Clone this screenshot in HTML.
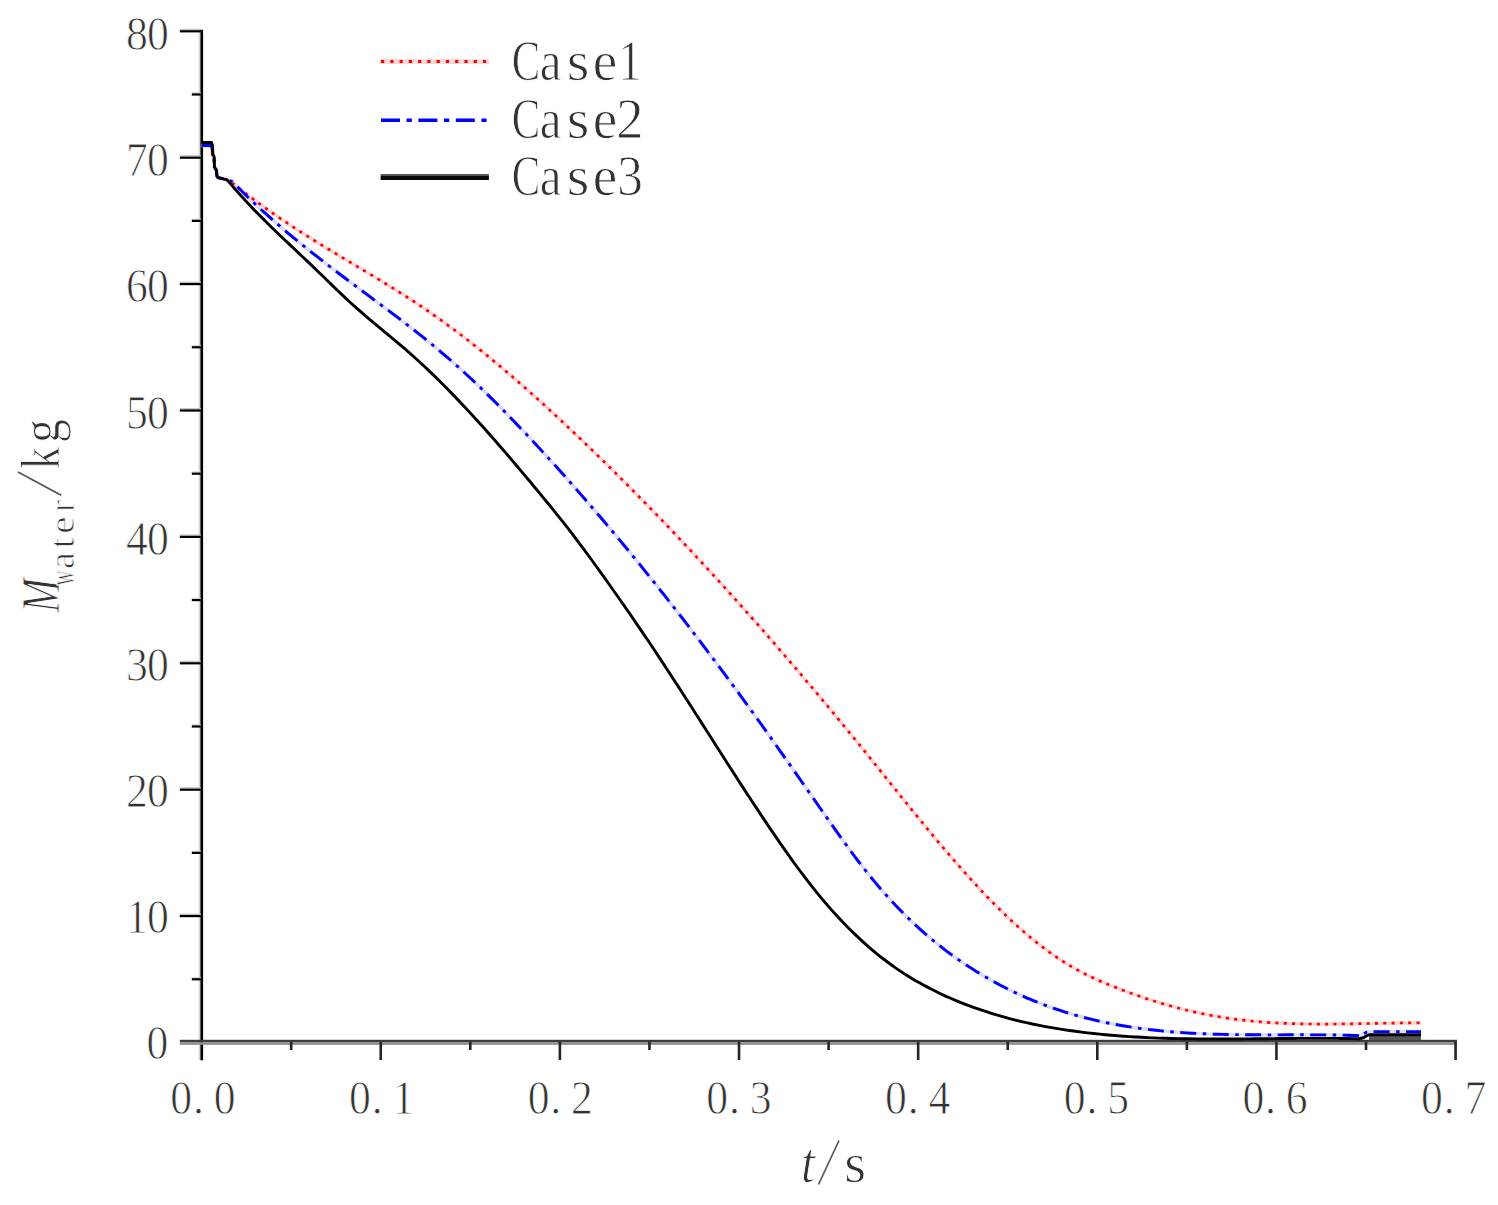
<!DOCTYPE html>
<html><head><meta charset="utf-8"><title>chart</title><style>
html,body{margin:0;padding:0;background:#fff;overflow:hidden;}
svg{display:block;}
</style></head><body>
<svg width="1498" height="1205" viewBox="0 0 1498 1205">
<rect width="1498" height="1205" fill="#fff"/>
<rect x="198.6" y="30" width="1.8" height="1030" fill="#d8d8d8"/>
<rect x="200.4" y="29.8" width="2.7" height="1030.5" fill="#000"/>
<rect x="179.8" y="1039.8" width="1277.2" height="2.4" fill="#3c3c3c"/>
<rect x="179.8" y="1042.2" width="1277.2" height="2.6" fill="#8c8c8c"/>
<rect x="191.8" y="977.00" width="9" height="1.3" fill="#d0d0d0"/>
<rect x="191.8" y="978.20" width="9" height="2.2" fill="#000"/>
<rect x="179.8" y="913.60" width="21" height="1.5" fill="#c4c4c4"/>
<rect x="179.8" y="915.00" width="21" height="2.2" fill="#000"/>
<rect x="191.8" y="850.60" width="9" height="1.3" fill="#d0d0d0"/>
<rect x="191.8" y="851.80" width="9" height="2.2" fill="#000"/>
<rect x="179.8" y="787.20" width="21" height="1.5" fill="#c4c4c4"/>
<rect x="179.8" y="788.60" width="21" height="2.2" fill="#000"/>
<rect x="191.8" y="724.20" width="9" height="1.3" fill="#d0d0d0"/>
<rect x="191.8" y="725.40" width="9" height="2.2" fill="#000"/>
<rect x="179.8" y="660.80" width="21" height="1.5" fill="#c4c4c4"/>
<rect x="179.8" y="662.20" width="21" height="2.2" fill="#000"/>
<rect x="191.8" y="597.80" width="9" height="1.3" fill="#d0d0d0"/>
<rect x="191.8" y="599.00" width="9" height="2.2" fill="#000"/>
<rect x="179.8" y="534.40" width="21" height="1.5" fill="#c4c4c4"/>
<rect x="179.8" y="535.80" width="21" height="2.2" fill="#000"/>
<rect x="191.8" y="471.40" width="9" height="1.3" fill="#d0d0d0"/>
<rect x="191.8" y="472.60" width="9" height="2.2" fill="#000"/>
<rect x="179.8" y="408.00" width="21" height="1.5" fill="#c4c4c4"/>
<rect x="179.8" y="409.40" width="21" height="2.2" fill="#000"/>
<rect x="191.8" y="345.00" width="9" height="1.3" fill="#d0d0d0"/>
<rect x="191.8" y="346.20" width="9" height="2.2" fill="#000"/>
<rect x="179.8" y="281.60" width="21" height="1.5" fill="#c4c4c4"/>
<rect x="179.8" y="283.00" width="21" height="2.2" fill="#000"/>
<rect x="191.8" y="218.60" width="9" height="1.3" fill="#d0d0d0"/>
<rect x="191.8" y="219.80" width="9" height="2.2" fill="#000"/>
<rect x="179.8" y="155.20" width="21" height="1.5" fill="#c4c4c4"/>
<rect x="179.8" y="156.60" width="21" height="2.2" fill="#000"/>
<rect x="191.8" y="92.20" width="9" height="1.3" fill="#d0d0d0"/>
<rect x="191.8" y="93.40" width="9" height="2.2" fill="#000"/>
<rect x="179.8" y="28.80" width="21" height="1.5" fill="#c4c4c4"/>
<rect x="179.8" y="30.20" width="21" height="2.2" fill="#000"/>
<rect x="289.87" y="1042" width="2.6" height="8" fill="#262626"/>
<rect x="379.44" y="1042" width="2.6" height="18" fill="#262626"/>
<rect x="469.01" y="1042" width="2.6" height="8" fill="#262626"/>
<rect x="558.58" y="1042" width="2.6" height="18" fill="#262626"/>
<rect x="648.15" y="1042" width="2.6" height="8" fill="#262626"/>
<rect x="737.72" y="1042" width="2.6" height="18" fill="#262626"/>
<rect x="827.29" y="1042" width="2.6" height="8" fill="#262626"/>
<rect x="916.86" y="1042" width="2.6" height="18" fill="#262626"/>
<rect x="1006.43" y="1042" width="2.6" height="8" fill="#262626"/>
<rect x="1096.00" y="1042" width="2.6" height="18" fill="#262626"/>
<rect x="1185.57" y="1042" width="2.6" height="8" fill="#262626"/>
<rect x="1275.14" y="1042" width="2.6" height="18" fill="#262626"/>
<rect x="1364.71" y="1042" width="2.6" height="8" fill="#262626"/>
<rect x="1454.28" y="1042" width="2.6" height="18" fill="#262626"/>
<text transform="translate(157.30,1059.20) scale(0.900,1)" font-family="Liberation Serif" font-size="48.5" fill="#333" stroke="#fff" stroke-width="0.90" text-anchor="middle">0</text>
<text transform="translate(137.00,933.08) scale(0.900,1)" font-family="Liberation Serif" font-size="48.5" fill="#333" stroke="#fff" stroke-width="0.90" text-anchor="middle">1</text><text transform="translate(158.00,933.08) scale(0.900,1)" font-family="Liberation Serif" font-size="48.5" fill="#333" stroke="#fff" stroke-width="0.90" text-anchor="middle">0</text>
<text transform="translate(137.00,806.96) scale(0.900,1)" font-family="Liberation Serif" font-size="48.5" fill="#333" stroke="#fff" stroke-width="0.90" text-anchor="middle">2</text><text transform="translate(158.00,806.96) scale(0.900,1)" font-family="Liberation Serif" font-size="48.5" fill="#333" stroke="#fff" stroke-width="0.90" text-anchor="middle">0</text>
<text transform="translate(137.00,680.84) scale(0.900,1)" font-family="Liberation Serif" font-size="48.5" fill="#333" stroke="#fff" stroke-width="0.90" text-anchor="middle">3</text><text transform="translate(158.00,680.84) scale(0.900,1)" font-family="Liberation Serif" font-size="48.5" fill="#333" stroke="#fff" stroke-width="0.90" text-anchor="middle">0</text>
<text transform="translate(137.00,554.72) scale(0.900,1)" font-family="Liberation Serif" font-size="48.5" fill="#333" stroke="#fff" stroke-width="0.90" text-anchor="middle">4</text><text transform="translate(158.00,554.72) scale(0.900,1)" font-family="Liberation Serif" font-size="48.5" fill="#333" stroke="#fff" stroke-width="0.90" text-anchor="middle">0</text>
<text transform="translate(137.00,428.60) scale(0.900,1)" font-family="Liberation Serif" font-size="48.5" fill="#333" stroke="#fff" stroke-width="0.90" text-anchor="middle">5</text><text transform="translate(158.00,428.60) scale(0.900,1)" font-family="Liberation Serif" font-size="48.5" fill="#333" stroke="#fff" stroke-width="0.90" text-anchor="middle">0</text>
<text transform="translate(137.00,302.48) scale(0.900,1)" font-family="Liberation Serif" font-size="48.5" fill="#333" stroke="#fff" stroke-width="0.90" text-anchor="middle">6</text><text transform="translate(158.00,302.48) scale(0.900,1)" font-family="Liberation Serif" font-size="48.5" fill="#333" stroke="#fff" stroke-width="0.90" text-anchor="middle">0</text>
<text transform="translate(137.00,176.36) scale(0.900,1)" font-family="Liberation Serif" font-size="48.5" fill="#333" stroke="#fff" stroke-width="0.90" text-anchor="middle">7</text><text transform="translate(158.00,176.36) scale(0.900,1)" font-family="Liberation Serif" font-size="48.5" fill="#333" stroke="#fff" stroke-width="0.90" text-anchor="middle">0</text>
<text transform="translate(137.00,50.24) scale(0.900,1)" font-family="Liberation Serif" font-size="48.5" fill="#333" stroke="#fff" stroke-width="0.90" text-anchor="middle">8</text><text transform="translate(158.00,50.24) scale(0.900,1)" font-family="Liberation Serif" font-size="48.5" fill="#333" stroke="#fff" stroke-width="0.90" text-anchor="middle">0</text>
<text transform="translate(181.20,1114.30) scale(0.900,1)" font-family="Liberation Serif" font-size="48.5" fill="#333" stroke="#fff" stroke-width="0.90" text-anchor="middle">0</text><text transform="translate(198.40,1114.30) scale(0.900,1)" font-family="Liberation Serif" font-size="48.5" fill="#333" stroke="#fff" stroke-width="0.90" text-anchor="middle">.</text><text transform="translate(224.60,1114.30) scale(0.900,1)" font-family="Liberation Serif" font-size="48.5" fill="#333" stroke="#fff" stroke-width="0.90" text-anchor="middle">0</text>
<text transform="translate(359.89,1114.30) scale(0.900,1)" font-family="Liberation Serif" font-size="48.5" fill="#333" stroke="#fff" stroke-width="0.90" text-anchor="middle">0</text><text transform="translate(377.09,1114.30) scale(0.900,1)" font-family="Liberation Serif" font-size="48.5" fill="#333" stroke="#fff" stroke-width="0.90" text-anchor="middle">.</text><text transform="translate(403.29,1114.30) scale(0.900,1)" font-family="Liberation Serif" font-size="48.5" fill="#333" stroke="#fff" stroke-width="0.90" text-anchor="middle">1</text>
<text transform="translate(538.58,1114.30) scale(0.900,1)" font-family="Liberation Serif" font-size="48.5" fill="#333" stroke="#fff" stroke-width="0.90" text-anchor="middle">0</text><text transform="translate(555.78,1114.30) scale(0.900,1)" font-family="Liberation Serif" font-size="48.5" fill="#333" stroke="#fff" stroke-width="0.90" text-anchor="middle">.</text><text transform="translate(581.98,1114.30) scale(0.900,1)" font-family="Liberation Serif" font-size="48.5" fill="#333" stroke="#fff" stroke-width="0.90" text-anchor="middle">2</text>
<text transform="translate(717.27,1114.30) scale(0.900,1)" font-family="Liberation Serif" font-size="48.5" fill="#333" stroke="#fff" stroke-width="0.90" text-anchor="middle">0</text><text transform="translate(734.47,1114.30) scale(0.900,1)" font-family="Liberation Serif" font-size="48.5" fill="#333" stroke="#fff" stroke-width="0.90" text-anchor="middle">.</text><text transform="translate(760.67,1114.30) scale(0.900,1)" font-family="Liberation Serif" font-size="48.5" fill="#333" stroke="#fff" stroke-width="0.90" text-anchor="middle">3</text>
<text transform="translate(895.96,1114.30) scale(0.900,1)" font-family="Liberation Serif" font-size="48.5" fill="#333" stroke="#fff" stroke-width="0.90" text-anchor="middle">0</text><text transform="translate(913.16,1114.30) scale(0.900,1)" font-family="Liberation Serif" font-size="48.5" fill="#333" stroke="#fff" stroke-width="0.90" text-anchor="middle">.</text><text transform="translate(939.36,1114.30) scale(0.900,1)" font-family="Liberation Serif" font-size="48.5" fill="#333" stroke="#fff" stroke-width="0.90" text-anchor="middle">4</text>
<text transform="translate(1074.65,1114.30) scale(0.900,1)" font-family="Liberation Serif" font-size="48.5" fill="#333" stroke="#fff" stroke-width="0.90" text-anchor="middle">0</text><text transform="translate(1091.85,1114.30) scale(0.900,1)" font-family="Liberation Serif" font-size="48.5" fill="#333" stroke="#fff" stroke-width="0.90" text-anchor="middle">.</text><text transform="translate(1118.05,1114.30) scale(0.900,1)" font-family="Liberation Serif" font-size="48.5" fill="#333" stroke="#fff" stroke-width="0.90" text-anchor="middle">5</text>
<text transform="translate(1253.34,1114.30) scale(0.900,1)" font-family="Liberation Serif" font-size="48.5" fill="#333" stroke="#fff" stroke-width="0.90" text-anchor="middle">0</text><text transform="translate(1270.54,1114.30) scale(0.900,1)" font-family="Liberation Serif" font-size="48.5" fill="#333" stroke="#fff" stroke-width="0.90" text-anchor="middle">.</text><text transform="translate(1296.74,1114.30) scale(0.900,1)" font-family="Liberation Serif" font-size="48.5" fill="#333" stroke="#fff" stroke-width="0.90" text-anchor="middle">6</text>
<text transform="translate(1432.03,1114.30) scale(0.900,1)" font-family="Liberation Serif" font-size="48.5" fill="#333" stroke="#fff" stroke-width="0.90" text-anchor="middle">0</text><text transform="translate(1449.23,1114.30) scale(0.900,1)" font-family="Liberation Serif" font-size="48.5" fill="#333" stroke="#fff" stroke-width="0.90" text-anchor="middle">.</text><text transform="translate(1475.43,1114.30) scale(0.900,1)" font-family="Liberation Serif" font-size="48.5" fill="#333" stroke="#fff" stroke-width="0.90" text-anchor="middle">7</text>
<text transform="translate(526.00,80.30) scale(0.750,1)" font-family="Liberation Serif" font-size="57.0" fill="#333" stroke="#fff" stroke-width="0.90" text-anchor="middle">C</text><text transform="translate(550.70,80.30) scale(0.860,1)" font-family="Liberation Serif" font-size="57.0" fill="#333" stroke="#fff" stroke-width="0.90" text-anchor="middle">a</text><text transform="translate(578.00,80.30) scale(1.020,1)" font-family="Liberation Serif" font-size="57.0" fill="#333" stroke="#fff" stroke-width="0.90" text-anchor="middle">s</text><text transform="translate(605.00,80.30) scale(0.970,1)" font-family="Liberation Serif" font-size="57.0" fill="#333" stroke="#fff" stroke-width="0.90" text-anchor="middle">e</text><text transform="translate(630.00,80.30) scale(0.830,1)" font-family="Liberation Serif" font-size="57.0" fill="#333" stroke="#fff" stroke-width="0.90" text-anchor="middle">1</text>
<text transform="translate(526.00,137.80) scale(0.750,1)" font-family="Liberation Serif" font-size="57.0" fill="#333" stroke="#fff" stroke-width="0.90" text-anchor="middle">C</text><text transform="translate(550.70,137.80) scale(0.860,1)" font-family="Liberation Serif" font-size="57.0" fill="#333" stroke="#fff" stroke-width="0.90" text-anchor="middle">a</text><text transform="translate(578.00,137.80) scale(1.020,1)" font-family="Liberation Serif" font-size="57.0" fill="#333" stroke="#fff" stroke-width="0.90" text-anchor="middle">s</text><text transform="translate(605.00,137.80) scale(0.970,1)" font-family="Liberation Serif" font-size="57.0" fill="#333" stroke="#fff" stroke-width="0.90" text-anchor="middle">e</text><text transform="translate(630.00,137.80) scale(0.960,1)" font-family="Liberation Serif" font-size="57.0" fill="#333" stroke="#fff" stroke-width="0.90" text-anchor="middle">2</text>
<text transform="translate(526.00,194.60) scale(0.750,1)" font-family="Liberation Serif" font-size="57.0" fill="#333" stroke="#fff" stroke-width="0.90" text-anchor="middle">C</text><text transform="translate(550.70,194.60) scale(0.860,1)" font-family="Liberation Serif" font-size="57.0" fill="#333" stroke="#fff" stroke-width="0.90" text-anchor="middle">a</text><text transform="translate(578.00,194.60) scale(1.020,1)" font-family="Liberation Serif" font-size="57.0" fill="#333" stroke="#fff" stroke-width="0.90" text-anchor="middle">s</text><text transform="translate(605.00,194.60) scale(0.970,1)" font-family="Liberation Serif" font-size="57.0" fill="#333" stroke="#fff" stroke-width="0.90" text-anchor="middle">e</text><text transform="translate(630.00,194.60) scale(0.900,1)" font-family="Liberation Serif" font-size="57.0" fill="#333" stroke="#fff" stroke-width="0.90" text-anchor="middle">3</text>
<line x1="379.4" y1="61.6" x2="489" y2="61.6" stroke="#ffd8d8" stroke-width="5"/><line x1="381" y1="61.6" x2="489" y2="61.6" stroke="#ff0000" stroke-width="3" stroke-dasharray="3.2 6.07"/>
<line x1="381" y1="120.2" x2="489" y2="120.2" stroke="#0000ff" stroke-width="3.6" stroke-dasharray="19 6.6 5.2 6.6"/>
<rect x="380.6" y="174.1" width="108.3" height="1.8" fill="#4a4a4a"/><rect x="380.6" y="175.9" width="108.3" height="4.1" fill="#080808"/>
<path d="M201.60 145.50 L210.80 145.50 L212.20 148.00 L212.60 155.00 L214.00 158.00 L214.30 167.00 L216.30 170.00 L216.80 175.80 L218.00 177.50 L222.00 178.40 L226.50 179.40 L234.90 184.97 C235.90 185.76 238.90 188.15 240.90 189.72 C242.90 191.28 244.90 192.82 246.90 194.35 C248.90 195.88 250.90 197.39 252.90 198.88 C254.90 200.37 256.90 201.85 258.90 203.31 C260.90 204.77 262.90 206.22 264.90 207.65 C266.90 209.08 268.90 210.50 270.90 211.90 C272.90 213.31 274.90 214.69 276.90 216.07 C278.90 217.45 280.90 218.81 282.90 220.16 C284.90 221.51 286.90 222.85 288.90 224.18 C290.90 225.51 292.90 226.82 294.90 228.13 C296.90 229.44 298.90 230.73 300.90 232.02 C302.90 233.30 304.90 234.58 306.90 235.85 C308.90 237.11 310.90 238.37 312.90 239.62 C314.90 240.88 316.90 242.12 318.90 243.36 C320.90 244.59 322.90 245.82 324.90 247.05 C326.90 248.27 328.90 249.49 330.90 250.70 C332.90 251.92 334.90 253.12 336.90 254.33 C338.90 255.54 340.90 256.74 342.90 257.94 C344.90 259.14 346.90 260.34 348.90 261.54 C350.90 262.73 352.90 263.93 354.90 265.13 C356.90 266.32 358.90 267.52 360.90 268.72 C362.90 269.91 364.90 271.11 366.90 272.32 C368.90 273.52 370.90 274.72 372.90 275.93 C374.90 277.14 376.90 278.35 378.90 279.57 C380.90 280.78 382.90 282.00 384.90 283.23 C386.90 284.46 388.90 285.69 390.90 286.93 C392.90 288.17 394.90 289.42 396.90 290.68 C398.90 291.93 400.90 293.19 402.90 294.47 C404.90 295.74 406.90 297.02 408.90 298.32 C410.90 299.61 412.90 300.92 414.90 302.23 C416.90 303.55 418.90 304.88 420.90 306.22 C422.90 307.56 424.90 308.91 426.90 310.28 C428.90 311.65 430.90 313.03 432.90 314.43 C434.90 315.82 436.90 317.24 438.90 318.66 C440.90 320.09 442.90 321.53 444.90 322.98 C446.90 324.43 448.90 325.90 450.90 327.38 C452.90 328.86 454.90 330.36 456.90 331.86 C458.90 333.37 460.90 334.89 462.90 336.43 C464.90 337.96 466.90 339.51 468.90 341.06 C470.90 342.62 472.90 344.20 474.90 345.78 C476.90 347.36 478.90 348.96 480.90 350.57 C482.90 352.17 484.90 353.79 486.90 355.42 C488.90 357.06 490.90 358.70 492.90 360.35 C494.90 362.01 496.90 363.67 498.90 365.35 C500.90 367.02 502.90 368.71 504.90 370.41 C506.90 372.10 508.90 373.81 510.90 375.53 C512.90 377.25 514.90 378.98 516.90 380.72 C518.90 382.45 520.90 384.20 522.90 385.96 C524.90 387.72 526.90 389.49 528.90 391.26 C530.90 393.04 532.90 394.83 534.90 396.62 C536.90 398.42 538.90 400.22 540.90 402.03 C542.90 403.85 544.90 405.67 546.90 407.50 C548.90 409.33 550.90 411.17 552.90 413.01 C554.90 414.86 556.90 416.71 558.90 418.57 C560.90 420.44 562.90 422.30 564.90 424.18 C566.90 426.06 568.90 427.94 570.90 429.83 C572.90 431.72 574.90 433.62 576.90 435.53 C578.90 437.43 580.90 439.34 582.90 441.26 C584.90 443.18 586.90 445.10 588.90 447.03 C590.90 448.96 592.90 450.90 594.90 452.84 C596.90 454.79 598.90 456.74 600.90 458.69 C602.90 460.65 604.90 462.61 606.90 464.58 C608.90 466.54 610.90 468.52 612.90 470.50 C614.90 472.48 616.90 474.47 618.90 476.46 C620.90 478.45 622.90 480.45 624.90 482.46 C626.90 484.46 628.90 486.48 630.90 488.49 C632.90 490.51 634.90 492.53 636.90 494.57 C638.90 496.60 640.90 498.63 642.90 500.67 C644.90 502.72 646.90 504.77 648.90 506.82 C650.90 508.87 652.90 510.94 654.90 513.00 C656.90 515.07 658.90 517.14 660.90 519.22 C662.90 521.30 664.90 523.39 666.90 525.48 C668.90 527.57 670.90 529.67 672.90 531.77 C674.90 533.87 676.90 535.98 678.90 538.10 C680.90 540.21 682.90 542.33 684.90 544.46 C686.90 546.59 688.90 548.72 690.90 550.86 C692.90 553.00 694.90 555.15 696.90 557.30 C698.90 559.45 700.90 561.61 702.90 563.77 C704.90 565.93 706.90 568.10 708.90 570.28 C710.90 572.45 712.90 574.63 714.90 576.82 C716.90 579.01 718.90 581.20 720.90 583.40 C722.90 585.60 724.90 587.80 726.90 590.01 C728.90 592.22 730.90 594.44 732.90 596.66 C734.90 598.88 736.90 601.11 738.90 603.35 C740.90 605.58 742.90 607.82 744.90 610.06 C746.90 612.31 748.90 614.56 750.90 616.82 C752.90 619.08 754.90 621.34 756.90 623.61 C758.90 625.88 760.90 628.15 762.90 630.43 C764.90 632.71 766.90 635.00 768.90 637.29 C770.90 639.58 772.90 641.88 774.90 644.18 C776.90 646.48 778.90 648.79 780.90 651.11 C782.90 653.42 784.90 655.74 786.90 658.07 C788.90 660.39 790.90 662.72 792.90 665.06 C794.90 667.40 796.90 669.74 798.90 672.09 C800.90 674.44 802.90 676.79 804.90 679.15 C806.90 681.51 808.90 683.88 810.90 686.25 C812.90 688.62 814.90 691.00 816.90 693.38 C818.90 695.76 820.90 698.15 822.90 700.54 C824.90 702.93 826.90 705.33 828.90 707.74 C830.90 710.14 832.90 712.55 834.90 714.97 C836.90 717.38 838.90 719.80 840.90 722.23 C842.90 724.66 844.90 727.09 846.90 729.53 C848.90 731.96 850.90 734.41 852.90 736.85 C854.90 739.30 856.90 741.76 858.90 744.22 C860.90 746.67 862.90 749.14 864.90 751.61 C866.90 754.08 868.90 756.55 870.90 759.03 C872.90 761.51 874.90 764.00 876.90 766.48 C878.90 768.96 880.90 771.45 882.90 773.94 C884.90 776.43 886.90 778.92 888.90 781.40 C890.90 783.89 892.90 786.38 894.90 788.86 C896.90 791.35 898.90 793.83 900.90 796.31 C902.90 798.79 904.90 801.27 906.90 803.74 C908.90 806.21 910.90 808.68 912.90 811.13 C914.90 813.59 916.90 816.05 918.90 818.49 C920.90 820.94 922.90 823.38 924.90 825.80 C926.90 828.23 928.90 830.65 930.90 833.06 C932.90 835.47 934.90 837.86 936.90 840.25 C938.90 842.63 940.90 845.01 942.90 847.36 C944.90 849.72 946.90 852.07 948.90 854.40 C950.90 856.73 952.90 859.04 954.90 861.34 C956.90 863.64 958.90 865.92 960.90 868.19 C962.90 870.45 964.90 872.70 966.90 874.92 C968.90 877.15 970.90 879.36 972.90 881.54 C974.90 883.73 976.90 885.89 978.90 888.04 C980.90 890.18 982.90 892.30 984.90 894.40 C986.90 896.49 988.90 898.57 990.90 900.61 C992.90 902.66 994.90 904.68 996.90 906.68 C998.90 908.67 1000.90 910.64 1002.90 912.58 C1004.90 914.52 1006.90 916.44 1008.90 918.32 C1010.90 920.20 1012.90 922.06 1014.90 923.88 C1016.90 925.71 1018.90 927.50 1020.90 929.27 C1022.90 931.03 1024.90 932.76 1026.90 934.46 C1028.90 936.16 1030.90 937.83 1032.90 939.47 C1034.90 941.10 1036.90 942.70 1038.90 944.27 C1040.90 945.84 1042.90 947.37 1044.90 948.87 C1046.90 950.36 1048.90 951.83 1050.90 953.25 C1052.90 954.68 1054.90 956.07 1056.90 957.42 C1058.90 958.77 1060.90 960.09 1062.90 961.36 C1064.90 962.64 1066.90 963.87 1068.90 965.07 C1070.90 966.27 1072.90 967.43 1074.90 968.55 C1076.90 969.67 1078.90 970.75 1080.90 971.81 C1082.90 972.86 1084.90 973.87 1086.90 974.86 C1088.90 975.85 1090.90 976.81 1092.90 977.75 C1094.90 978.68 1096.90 979.59 1098.90 980.47 C1100.90 981.36 1102.90 982.22 1104.90 983.07 C1106.90 983.91 1108.90 984.74 1110.90 985.55 C1112.90 986.36 1114.90 987.15 1116.90 987.94 C1118.90 988.72 1120.90 989.49 1122.90 990.25 C1124.90 991.01 1126.90 991.76 1128.90 992.49 C1130.90 993.23 1132.90 993.95 1134.90 994.66 C1136.90 995.37 1138.90 996.06 1140.90 996.75 C1142.90 997.43 1144.90 998.10 1146.90 998.76 C1148.90 999.42 1150.90 1000.07 1152.90 1000.70 C1154.90 1001.33 1156.90 1001.95 1158.90 1002.56 C1160.90 1003.16 1162.90 1003.76 1164.90 1004.34 C1166.90 1004.92 1168.90 1005.49 1170.90 1006.04 C1172.90 1006.60 1174.90 1007.14 1176.90 1007.66 C1178.90 1008.19 1180.90 1008.71 1182.90 1009.21 C1184.90 1009.71 1186.90 1010.20 1188.90 1010.67 C1190.90 1011.15 1192.90 1011.61 1194.90 1012.06 C1196.90 1012.50 1198.90 1012.94 1200.90 1013.36 C1202.90 1013.78 1204.90 1014.18 1206.90 1014.58 C1208.90 1014.97 1210.90 1015.35 1212.90 1015.71 C1214.90 1016.08 1216.90 1016.43 1218.90 1016.77 C1220.90 1017.11 1222.90 1017.43 1224.90 1017.74 C1226.90 1018.05 1228.90 1018.34 1230.90 1018.63 C1232.90 1018.91 1234.90 1019.18 1236.90 1019.43 C1238.90 1019.69 1240.90 1019.93 1242.90 1020.16 C1244.90 1020.39 1246.90 1020.60 1248.90 1020.81 C1250.90 1021.02 1252.90 1021.21 1254.90 1021.39 C1256.90 1021.57 1258.90 1021.74 1260.90 1021.90 C1262.90 1022.07 1264.90 1022.21 1266.90 1022.35 C1268.90 1022.49 1270.90 1022.62 1272.90 1022.74 C1274.90 1022.86 1276.90 1022.97 1278.90 1023.07 C1280.90 1023.18 1282.90 1023.27 1284.90 1023.35 C1286.90 1023.44 1288.90 1023.51 1290.90 1023.58 C1292.90 1023.65 1294.90 1023.71 1296.90 1023.76 C1298.90 1023.81 1300.90 1023.86 1302.90 1023.89 C1304.90 1023.93 1306.90 1023.96 1308.90 1023.99 C1310.90 1024.02 1312.90 1024.04 1314.90 1024.05 C1316.90 1024.07 1318.90 1024.07 1320.90 1024.08 C1322.90 1024.08 1324.90 1024.08 1326.90 1024.07 C1328.90 1024.07 1330.90 1024.06 1332.90 1024.05 C1334.90 1024.03 1336.90 1024.01 1338.90 1023.99 C1340.90 1023.97 1342.90 1023.95 1344.90 1023.92 C1346.90 1023.90 1348.90 1023.87 1350.90 1023.84 C1352.90 1023.81 1354.90 1023.77 1356.90 1023.74 C1358.90 1023.70 1360.90 1023.67 1362.90 1023.63 C1364.90 1023.59 1366.90 1023.55 1368.90 1023.52 C1370.90 1023.48 1372.90 1023.44 1374.90 1023.40 C1376.90 1023.36 1378.90 1023.32 1380.90 1023.29 C1382.90 1023.25 1384.90 1023.21 1386.90 1023.18 C1388.90 1023.14 1390.90 1023.11 1392.90 1023.08 C1394.90 1023.04 1396.90 1023.01 1398.90 1022.99 C1400.90 1022.96 1402.90 1022.94 1404.90 1022.91 C1406.90 1022.89 1408.90 1022.87 1410.90 1022.86 C1412.90 1022.85 1415.22 1022.83 1416.90 1022.83 C1418.58 1022.82 1420.32 1022.82 1421.00 1022.82 L" fill="none" stroke="#ffd6d6" stroke-width="3.6" stroke-linejoin="round"/>
<path d="M201.60 145.50 L210.80 145.50 L212.20 148.00 L212.60 155.00 L214.00 158.00 L214.30 167.00 L216.30 170.00 L216.80 175.80 L218.00 177.50 L222.00 178.40 L226.50 179.40 L231.90 181.27 C232.90 182.28 235.90 185.33 237.90 187.33 C239.90 189.32 241.90 191.29 243.90 193.24 C245.90 195.19 247.90 197.12 249.90 199.03 C251.90 200.93 253.90 202.82 255.90 204.69 C257.90 206.55 259.90 208.40 261.90 210.22 C263.90 212.05 265.90 213.86 267.90 215.65 C269.90 217.44 271.90 219.21 273.90 220.97 C275.90 222.72 277.90 224.46 279.90 226.19 C281.90 227.91 283.90 229.62 285.90 231.31 C287.90 233.00 289.90 234.68 291.90 236.34 C293.90 238.01 295.90 239.66 297.90 241.30 C299.90 242.94 301.90 244.56 303.90 246.18 C305.90 247.79 307.90 249.39 309.90 250.99 C311.90 252.58 313.90 254.16 315.90 255.73 C317.90 257.31 319.90 258.87 321.90 260.42 C323.90 261.98 325.90 263.53 327.90 265.07 C329.90 266.60 331.90 268.14 333.90 269.66 C335.90 271.19 337.90 272.71 339.90 274.22 C341.90 275.74 343.90 277.25 345.90 278.75 C347.90 280.26 349.90 281.76 351.90 283.26 C353.90 284.76 355.90 286.25 357.90 287.74 C359.90 289.24 361.90 290.73 363.90 292.22 C365.90 293.71 367.90 295.20 369.90 296.69 C371.90 298.18 373.90 299.67 375.90 301.16 C377.90 302.65 379.90 304.15 381.90 305.64 C383.90 307.14 385.90 308.64 387.90 310.14 C389.90 311.64 391.90 313.15 393.90 314.66 C395.90 316.18 397.90 317.69 399.90 319.22 C401.90 320.75 403.90 322.28 405.90 323.82 C407.90 325.36 409.90 326.91 411.90 328.47 C413.90 330.03 415.90 331.60 417.90 333.18 C419.90 334.76 421.90 336.35 423.90 337.96 C425.90 339.56 427.90 341.18 429.90 342.81 C431.90 344.44 433.90 346.09 435.90 347.75 C437.90 349.41 439.90 351.08 441.90 352.78 C443.90 354.47 445.90 356.18 447.90 357.90 C449.90 359.63 451.90 361.38 453.90 363.14 C455.90 364.91 457.90 366.69 459.90 368.49 C461.90 370.30 463.90 372.12 465.90 373.96 C467.90 375.80 469.90 377.66 471.90 379.53 C473.90 381.40 475.90 383.30 477.90 385.21 C479.90 387.11 481.90 389.04 483.90 390.98 C485.90 392.92 487.90 394.88 489.90 396.85 C491.90 398.82 493.90 400.80 495.90 402.80 C497.90 404.80 499.90 406.82 501.90 408.85 C503.90 410.87 505.90 412.92 507.90 414.97 C509.90 417.02 511.90 419.09 513.90 421.17 C515.90 423.25 517.90 425.34 519.90 427.44 C521.90 429.54 523.90 431.65 525.90 433.77 C527.90 435.90 529.90 438.03 531.90 440.17 C533.90 442.31 535.90 444.47 537.90 446.63 C539.90 448.79 541.90 450.96 543.90 453.14 C545.90 455.32 547.90 457.51 549.90 459.71 C551.90 461.90 553.90 464.11 555.90 466.33 C557.90 468.54 559.90 470.77 561.90 473.01 C563.90 475.24 565.90 477.48 567.90 479.74 C569.90 481.99 571.90 484.25 573.90 486.52 C575.90 488.80 577.90 491.08 579.90 493.37 C581.90 495.65 583.90 497.95 585.90 500.26 C587.90 502.57 589.90 504.88 591.90 507.21 C593.90 509.53 595.90 511.87 597.90 514.21 C599.90 516.55 601.90 518.91 603.90 521.27 C605.90 523.63 607.90 526.00 609.90 528.37 C611.90 530.75 613.90 533.14 615.90 535.53 C617.90 537.93 619.90 540.34 621.90 542.75 C623.90 545.16 625.90 547.58 627.90 550.01 C629.90 552.44 631.90 554.88 633.90 557.33 C635.90 559.78 637.90 562.24 639.90 564.70 C641.90 567.16 643.90 569.64 645.90 572.12 C647.90 574.60 649.90 577.09 651.90 579.59 C653.90 582.09 655.90 584.60 657.90 587.11 C659.90 589.63 661.90 592.15 663.90 594.69 C665.90 597.22 667.90 599.76 669.90 602.31 C671.90 604.86 673.90 607.42 675.90 609.98 C677.90 612.55 679.90 615.12 681.90 617.71 C683.90 620.29 685.90 622.88 687.90 625.48 C689.90 628.08 691.90 630.69 693.90 633.30 C695.90 635.92 697.90 638.54 699.90 641.17 C701.90 643.80 703.90 646.44 705.90 649.09 C707.90 651.74 709.90 654.40 711.90 657.06 C713.90 659.72 715.90 662.40 717.90 665.08 C719.90 667.76 721.90 670.45 723.90 673.14 C725.90 675.84 727.90 678.54 729.90 681.25 C731.90 683.97 733.90 686.69 735.90 689.41 C737.90 692.14 739.90 694.88 741.90 697.62 C743.90 700.36 745.90 703.12 747.90 705.87 C749.90 708.63 751.90 711.40 753.90 714.18 C755.90 716.95 757.90 719.73 759.90 722.52 C761.90 725.31 763.90 728.11 765.90 730.91 C767.90 733.72 769.90 736.53 771.90 739.35 C773.90 742.17 775.90 744.99 777.90 747.82 C779.90 750.65 781.90 753.49 783.90 756.32 C785.90 759.16 787.90 762.01 789.90 764.86 C791.90 767.71 793.90 770.56 795.90 773.41 C797.90 776.27 799.90 779.13 801.90 781.99 C803.90 784.85 805.90 787.71 807.90 790.58 C809.90 793.45 811.90 796.31 813.90 799.18 C815.90 802.05 817.90 804.92 819.90 807.79 C821.90 810.65 823.90 813.52 825.90 816.38 C827.90 819.24 829.90 822.09 831.90 824.93 C833.90 827.77 835.90 830.59 837.90 833.40 C839.90 836.21 841.90 839.00 843.90 841.77 C845.90 844.53 847.90 847.28 849.90 849.99 C851.90 852.70 853.90 855.39 855.90 858.05 C857.90 860.70 859.90 863.32 861.90 865.90 C863.90 868.48 865.90 871.02 867.90 873.52 C869.90 876.01 871.90 878.47 873.90 880.87 C875.90 883.28 877.90 885.65 879.90 887.97 C881.90 890.29 883.90 892.57 885.90 894.81 C887.90 897.05 889.90 899.24 891.90 901.40 C893.90 903.55 895.90 905.67 897.90 907.74 C899.90 909.82 901.90 911.86 903.90 913.86 C905.90 915.85 907.90 917.81 909.90 919.74 C911.90 921.66 913.90 923.54 915.90 925.39 C917.90 927.24 919.90 929.06 921.90 930.84 C923.90 932.62 925.90 934.36 927.90 936.07 C929.90 937.78 931.90 939.46 933.90 941.10 C935.90 942.74 937.90 944.35 939.90 945.93 C941.90 947.51 943.90 949.06 945.90 950.58 C947.90 952.10 949.90 953.58 951.90 955.04 C953.90 956.50 955.90 957.92 957.90 959.33 C959.90 960.73 961.90 962.10 963.90 963.44 C965.90 964.79 967.90 966.10 969.90 967.40 C971.90 968.69 973.90 969.95 975.90 971.19 C977.90 972.43 979.90 973.65 981.90 974.84 C983.90 976.03 985.90 977.20 987.90 978.35 C989.90 979.49 991.90 980.62 993.90 981.71 C995.90 982.81 997.90 983.89 999.90 984.95 C1001.90 986.00 1003.90 987.03 1005.90 988.04 C1007.90 989.05 1009.90 990.04 1011.90 991.01 C1013.90 991.98 1015.90 992.92 1017.90 993.85 C1019.90 994.77 1021.90 995.68 1023.90 996.56 C1025.90 997.44 1027.90 998.31 1029.90 999.15 C1031.90 1000.00 1033.90 1000.82 1035.90 1001.62 C1037.90 1002.43 1039.90 1003.21 1041.90 1003.98 C1043.90 1004.75 1045.90 1005.49 1047.90 1006.22 C1049.90 1006.95 1051.90 1007.66 1053.90 1008.35 C1055.90 1009.04 1057.90 1009.72 1059.90 1010.37 C1061.90 1011.03 1063.90 1011.67 1065.90 1012.29 C1067.90 1012.91 1069.90 1013.52 1071.90 1014.11 C1073.90 1014.69 1075.90 1015.26 1077.90 1015.82 C1079.90 1016.38 1081.90 1016.91 1083.90 1017.44 C1085.90 1017.96 1087.90 1018.47 1089.90 1018.96 C1091.90 1019.45 1093.90 1019.93 1095.90 1020.39 C1097.90 1020.86 1099.90 1021.30 1101.90 1021.74 C1103.90 1022.17 1105.90 1022.59 1107.90 1023.00 C1109.90 1023.40 1111.90 1023.79 1113.90 1024.17 C1115.90 1024.55 1117.90 1024.91 1119.90 1025.27 C1121.90 1025.62 1123.90 1025.96 1125.90 1026.28 C1127.90 1026.61 1129.90 1026.93 1131.90 1027.23 C1133.90 1027.53 1135.90 1027.82 1137.90 1028.10 C1139.90 1028.38 1141.90 1028.65 1143.90 1028.90 C1145.90 1029.16 1147.90 1029.40 1149.90 1029.64 C1151.90 1029.87 1153.90 1030.10 1155.90 1030.31 C1157.90 1030.53 1159.90 1030.73 1161.90 1030.93 C1163.90 1031.12 1165.90 1031.31 1167.90 1031.48 C1169.90 1031.66 1171.90 1031.82 1173.90 1031.98 C1175.90 1032.14 1177.90 1032.29 1179.90 1032.43 C1181.90 1032.57 1183.90 1032.71 1185.90 1032.83 C1187.90 1032.96 1189.90 1033.07 1191.90 1033.18 C1193.90 1033.30 1195.90 1033.40 1197.90 1033.49 C1199.90 1033.59 1201.90 1033.68 1203.90 1033.76 C1205.90 1033.85 1207.90 1033.92 1209.90 1033.99 C1211.90 1034.07 1213.90 1034.13 1215.90 1034.19 C1217.90 1034.25 1219.90 1034.30 1221.90 1034.35 C1223.90 1034.40 1225.90 1034.45 1227.90 1034.49 C1229.90 1034.53 1231.90 1034.56 1233.90 1034.59 C1235.90 1034.63 1237.90 1034.65 1239.90 1034.68 C1241.90 1034.70 1243.90 1034.72 1245.90 1034.74 C1247.90 1034.76 1249.90 1034.77 1251.90 1034.78 C1253.90 1034.80 1255.90 1034.81 1257.90 1034.81 C1259.90 1034.82 1261.90 1034.82 1263.90 1034.83 C1265.90 1034.83 1267.90 1034.83 1269.90 1034.83 C1271.90 1034.83 1273.90 1034.83 1275.90 1034.83 C1277.90 1034.83 1279.90 1034.83 1281.90 1034.83 C1283.90 1034.82 1285.90 1034.82 1287.90 1034.82 C1289.90 1034.82 1291.90 1034.82 1293.90 1034.81 C1295.90 1034.81 1297.90 1034.81 1299.90 1034.81 C1301.90 1034.81 1303.90 1034.81 1305.90 1034.82 C1307.90 1034.82 1309.90 1034.83 1311.90 1034.83 C1313.90 1034.84 1315.90 1034.85 1317.90 1034.86 C1319.90 1034.87 1321.90 1034.89 1323.90 1034.90 C1325.90 1034.92 1327.90 1034.94 1329.90 1034.97 C1331.90 1034.99 1333.90 1035.02 1335.90 1035.05 C1337.90 1035.08 1339.90 1035.12 1341.90 1035.15 C1343.90 1035.19 1345.90 1035.24 1347.90 1035.29 C1349.90 1035.34 1351.90 1035.39 1353.90 1035.45 C1355.90 1035.51 1358.88 1035.61 1359.90 1035.64 C1360.92 1035.68 1359.98 1035.65 1360.00 1035.65 L1364.00 1033.50 L1367.00 1032.00 L1369.00 1031.60 L1421.00 1031.60" fill="none" stroke="#dcdcff" stroke-width="3.6" stroke-linejoin="round"/>
<path d="M201.60 145.50 L210.80 145.50 L212.20 148.00 L212.60 155.00 L214.00 158.00 L214.30 167.00 L216.30 170.00 L216.80 175.80 L218.00 177.50 L222.00 178.40 L226.50 179.40 L234.90 184.97 C235.90 185.76 238.90 188.15 240.90 189.72 C242.90 191.28 244.90 192.82 246.90 194.35 C248.90 195.88 250.90 197.39 252.90 198.88 C254.90 200.37 256.90 201.85 258.90 203.31 C260.90 204.77 262.90 206.22 264.90 207.65 C266.90 209.08 268.90 210.50 270.90 211.90 C272.90 213.31 274.90 214.69 276.90 216.07 C278.90 217.45 280.90 218.81 282.90 220.16 C284.90 221.51 286.90 222.85 288.90 224.18 C290.90 225.51 292.90 226.82 294.90 228.13 C296.90 229.44 298.90 230.73 300.90 232.02 C302.90 233.30 304.90 234.58 306.90 235.85 C308.90 237.11 310.90 238.37 312.90 239.62 C314.90 240.88 316.90 242.12 318.90 243.36 C320.90 244.59 322.90 245.82 324.90 247.05 C326.90 248.27 328.90 249.49 330.90 250.70 C332.90 251.92 334.90 253.12 336.90 254.33 C338.90 255.54 340.90 256.74 342.90 257.94 C344.90 259.14 346.90 260.34 348.90 261.54 C350.90 262.73 352.90 263.93 354.90 265.13 C356.90 266.32 358.90 267.52 360.90 268.72 C362.90 269.91 364.90 271.11 366.90 272.32 C368.90 273.52 370.90 274.72 372.90 275.93 C374.90 277.14 376.90 278.35 378.90 279.57 C380.90 280.78 382.90 282.00 384.90 283.23 C386.90 284.46 388.90 285.69 390.90 286.93 C392.90 288.17 394.90 289.42 396.90 290.68 C398.90 291.93 400.90 293.19 402.90 294.47 C404.90 295.74 406.90 297.02 408.90 298.32 C410.90 299.61 412.90 300.92 414.90 302.23 C416.90 303.55 418.90 304.88 420.90 306.22 C422.90 307.56 424.90 308.91 426.90 310.28 C428.90 311.65 430.90 313.03 432.90 314.43 C434.90 315.82 436.90 317.24 438.90 318.66 C440.90 320.09 442.90 321.53 444.90 322.98 C446.90 324.43 448.90 325.90 450.90 327.38 C452.90 328.86 454.90 330.36 456.90 331.86 C458.90 333.37 460.90 334.89 462.90 336.43 C464.90 337.96 466.90 339.51 468.90 341.06 C470.90 342.62 472.90 344.20 474.90 345.78 C476.90 347.36 478.90 348.96 480.90 350.57 C482.90 352.17 484.90 353.79 486.90 355.42 C488.90 357.06 490.90 358.70 492.90 360.35 C494.90 362.01 496.90 363.67 498.90 365.35 C500.90 367.02 502.90 368.71 504.90 370.41 C506.90 372.10 508.90 373.81 510.90 375.53 C512.90 377.25 514.90 378.98 516.90 380.72 C518.90 382.45 520.90 384.20 522.90 385.96 C524.90 387.72 526.90 389.49 528.90 391.26 C530.90 393.04 532.90 394.83 534.90 396.62 C536.90 398.42 538.90 400.22 540.90 402.03 C542.90 403.85 544.90 405.67 546.90 407.50 C548.90 409.33 550.90 411.17 552.90 413.01 C554.90 414.86 556.90 416.71 558.90 418.57 C560.90 420.44 562.90 422.30 564.90 424.18 C566.90 426.06 568.90 427.94 570.90 429.83 C572.90 431.72 574.90 433.62 576.90 435.53 C578.90 437.43 580.90 439.34 582.90 441.26 C584.90 443.18 586.90 445.10 588.90 447.03 C590.90 448.96 592.90 450.90 594.90 452.84 C596.90 454.79 598.90 456.74 600.90 458.69 C602.90 460.65 604.90 462.61 606.90 464.58 C608.90 466.54 610.90 468.52 612.90 470.50 C614.90 472.48 616.90 474.47 618.90 476.46 C620.90 478.45 622.90 480.45 624.90 482.46 C626.90 484.46 628.90 486.48 630.90 488.49 C632.90 490.51 634.90 492.53 636.90 494.57 C638.90 496.60 640.90 498.63 642.90 500.67 C644.90 502.72 646.90 504.77 648.90 506.82 C650.90 508.87 652.90 510.94 654.90 513.00 C656.90 515.07 658.90 517.14 660.90 519.22 C662.90 521.30 664.90 523.39 666.90 525.48 C668.90 527.57 670.90 529.67 672.90 531.77 C674.90 533.87 676.90 535.98 678.90 538.10 C680.90 540.21 682.90 542.33 684.90 544.46 C686.90 546.59 688.90 548.72 690.90 550.86 C692.90 553.00 694.90 555.15 696.90 557.30 C698.90 559.45 700.90 561.61 702.90 563.77 C704.90 565.93 706.90 568.10 708.90 570.28 C710.90 572.45 712.90 574.63 714.90 576.82 C716.90 579.01 718.90 581.20 720.90 583.40 C722.90 585.60 724.90 587.80 726.90 590.01 C728.90 592.22 730.90 594.44 732.90 596.66 C734.90 598.88 736.90 601.11 738.90 603.35 C740.90 605.58 742.90 607.82 744.90 610.06 C746.90 612.31 748.90 614.56 750.90 616.82 C752.90 619.08 754.90 621.34 756.90 623.61 C758.90 625.88 760.90 628.15 762.90 630.43 C764.90 632.71 766.90 635.00 768.90 637.29 C770.90 639.58 772.90 641.88 774.90 644.18 C776.90 646.48 778.90 648.79 780.90 651.11 C782.90 653.42 784.90 655.74 786.90 658.07 C788.90 660.39 790.90 662.72 792.90 665.06 C794.90 667.40 796.90 669.74 798.90 672.09 C800.90 674.44 802.90 676.79 804.90 679.15 C806.90 681.51 808.90 683.88 810.90 686.25 C812.90 688.62 814.90 691.00 816.90 693.38 C818.90 695.76 820.90 698.15 822.90 700.54 C824.90 702.93 826.90 705.33 828.90 707.74 C830.90 710.14 832.90 712.55 834.90 714.97 C836.90 717.38 838.90 719.80 840.90 722.23 C842.90 724.66 844.90 727.09 846.90 729.53 C848.90 731.96 850.90 734.41 852.90 736.85 C854.90 739.30 856.90 741.76 858.90 744.22 C860.90 746.67 862.90 749.14 864.90 751.61 C866.90 754.08 868.90 756.55 870.90 759.03 C872.90 761.51 874.90 764.00 876.90 766.48 C878.90 768.96 880.90 771.45 882.90 773.94 C884.90 776.43 886.90 778.92 888.90 781.40 C890.90 783.89 892.90 786.38 894.90 788.86 C896.90 791.35 898.90 793.83 900.90 796.31 C902.90 798.79 904.90 801.27 906.90 803.74 C908.90 806.21 910.90 808.68 912.90 811.13 C914.90 813.59 916.90 816.05 918.90 818.49 C920.90 820.94 922.90 823.38 924.90 825.80 C926.90 828.23 928.90 830.65 930.90 833.06 C932.90 835.47 934.90 837.86 936.90 840.25 C938.90 842.63 940.90 845.01 942.90 847.36 C944.90 849.72 946.90 852.07 948.90 854.40 C950.90 856.73 952.90 859.04 954.90 861.34 C956.90 863.64 958.90 865.92 960.90 868.19 C962.90 870.45 964.90 872.70 966.90 874.92 C968.90 877.15 970.90 879.36 972.90 881.54 C974.90 883.73 976.90 885.89 978.90 888.04 C980.90 890.18 982.90 892.30 984.90 894.40 C986.90 896.49 988.90 898.57 990.90 900.61 C992.90 902.66 994.90 904.68 996.90 906.68 C998.90 908.67 1000.90 910.64 1002.90 912.58 C1004.90 914.52 1006.90 916.44 1008.90 918.32 C1010.90 920.20 1012.90 922.06 1014.90 923.88 C1016.90 925.71 1018.90 927.50 1020.90 929.27 C1022.90 931.03 1024.90 932.76 1026.90 934.46 C1028.90 936.16 1030.90 937.83 1032.90 939.47 C1034.90 941.10 1036.90 942.70 1038.90 944.27 C1040.90 945.84 1042.90 947.37 1044.90 948.87 C1046.90 950.36 1048.90 951.83 1050.90 953.25 C1052.90 954.68 1054.90 956.07 1056.90 957.42 C1058.90 958.77 1060.90 960.09 1062.90 961.36 C1064.90 962.64 1066.90 963.87 1068.90 965.07 C1070.90 966.27 1072.90 967.43 1074.90 968.55 C1076.90 969.67 1078.90 970.75 1080.90 971.81 C1082.90 972.86 1084.90 973.87 1086.90 974.86 C1088.90 975.85 1090.90 976.81 1092.90 977.75 C1094.90 978.68 1096.90 979.59 1098.90 980.47 C1100.90 981.36 1102.90 982.22 1104.90 983.07 C1106.90 983.91 1108.90 984.74 1110.90 985.55 C1112.90 986.36 1114.90 987.15 1116.90 987.94 C1118.90 988.72 1120.90 989.49 1122.90 990.25 C1124.90 991.01 1126.90 991.76 1128.90 992.49 C1130.90 993.23 1132.90 993.95 1134.90 994.66 C1136.90 995.37 1138.90 996.06 1140.90 996.75 C1142.90 997.43 1144.90 998.10 1146.90 998.76 C1148.90 999.42 1150.90 1000.07 1152.90 1000.70 C1154.90 1001.33 1156.90 1001.95 1158.90 1002.56 C1160.90 1003.16 1162.90 1003.76 1164.90 1004.34 C1166.90 1004.92 1168.90 1005.49 1170.90 1006.04 C1172.90 1006.60 1174.90 1007.14 1176.90 1007.66 C1178.90 1008.19 1180.90 1008.71 1182.90 1009.21 C1184.90 1009.71 1186.90 1010.20 1188.90 1010.67 C1190.90 1011.15 1192.90 1011.61 1194.90 1012.06 C1196.90 1012.50 1198.90 1012.94 1200.90 1013.36 C1202.90 1013.78 1204.90 1014.18 1206.90 1014.58 C1208.90 1014.97 1210.90 1015.35 1212.90 1015.71 C1214.90 1016.08 1216.90 1016.43 1218.90 1016.77 C1220.90 1017.11 1222.90 1017.43 1224.90 1017.74 C1226.90 1018.05 1228.90 1018.34 1230.90 1018.63 C1232.90 1018.91 1234.90 1019.18 1236.90 1019.43 C1238.90 1019.69 1240.90 1019.93 1242.90 1020.16 C1244.90 1020.39 1246.90 1020.60 1248.90 1020.81 C1250.90 1021.02 1252.90 1021.21 1254.90 1021.39 C1256.90 1021.57 1258.90 1021.74 1260.90 1021.90 C1262.90 1022.07 1264.90 1022.21 1266.90 1022.35 C1268.90 1022.49 1270.90 1022.62 1272.90 1022.74 C1274.90 1022.86 1276.90 1022.97 1278.90 1023.07 C1280.90 1023.18 1282.90 1023.27 1284.90 1023.35 C1286.90 1023.44 1288.90 1023.51 1290.90 1023.58 C1292.90 1023.65 1294.90 1023.71 1296.90 1023.76 C1298.90 1023.81 1300.90 1023.86 1302.90 1023.89 C1304.90 1023.93 1306.90 1023.96 1308.90 1023.99 C1310.90 1024.02 1312.90 1024.04 1314.90 1024.05 C1316.90 1024.07 1318.90 1024.07 1320.90 1024.08 C1322.90 1024.08 1324.90 1024.08 1326.90 1024.07 C1328.90 1024.07 1330.90 1024.06 1332.90 1024.05 C1334.90 1024.03 1336.90 1024.01 1338.90 1023.99 C1340.90 1023.97 1342.90 1023.95 1344.90 1023.92 C1346.90 1023.90 1348.90 1023.87 1350.90 1023.84 C1352.90 1023.81 1354.90 1023.77 1356.90 1023.74 C1358.90 1023.70 1360.90 1023.67 1362.90 1023.63 C1364.90 1023.59 1366.90 1023.55 1368.90 1023.52 C1370.90 1023.48 1372.90 1023.44 1374.90 1023.40 C1376.90 1023.36 1378.90 1023.32 1380.90 1023.29 C1382.90 1023.25 1384.90 1023.21 1386.90 1023.18 C1388.90 1023.14 1390.90 1023.11 1392.90 1023.08 C1394.90 1023.04 1396.90 1023.01 1398.90 1022.99 C1400.90 1022.96 1402.90 1022.94 1404.90 1022.91 C1406.90 1022.89 1408.90 1022.87 1410.90 1022.86 C1412.90 1022.85 1415.22 1022.83 1416.90 1022.83 C1418.58 1022.82 1420.32 1022.82 1421.00 1022.82 L" fill="none" stroke="#ff0000" stroke-width="2.7" stroke-dasharray="3 5.3" stroke-linejoin="round"/>
<path d="M201.60 145.50 L210.80 145.50 L212.20 148.00 L212.60 155.00 L214.00 158.00 L214.30 167.00 L216.30 170.00 L216.80 175.80 L218.00 177.50 L222.00 178.40 L226.50 179.40 L231.90 181.27 C232.90 182.28 235.90 185.33 237.90 187.33 C239.90 189.32 241.90 191.29 243.90 193.24 C245.90 195.19 247.90 197.12 249.90 199.03 C251.90 200.93 253.90 202.82 255.90 204.69 C257.90 206.55 259.90 208.40 261.90 210.22 C263.90 212.05 265.90 213.86 267.90 215.65 C269.90 217.44 271.90 219.21 273.90 220.97 C275.90 222.72 277.90 224.46 279.90 226.19 C281.90 227.91 283.90 229.62 285.90 231.31 C287.90 233.00 289.90 234.68 291.90 236.34 C293.90 238.01 295.90 239.66 297.90 241.30 C299.90 242.94 301.90 244.56 303.90 246.18 C305.90 247.79 307.90 249.39 309.90 250.99 C311.90 252.58 313.90 254.16 315.90 255.73 C317.90 257.31 319.90 258.87 321.90 260.42 C323.90 261.98 325.90 263.53 327.90 265.07 C329.90 266.60 331.90 268.14 333.90 269.66 C335.90 271.19 337.90 272.71 339.90 274.22 C341.90 275.74 343.90 277.25 345.90 278.75 C347.90 280.26 349.90 281.76 351.90 283.26 C353.90 284.76 355.90 286.25 357.90 287.74 C359.90 289.24 361.90 290.73 363.90 292.22 C365.90 293.71 367.90 295.20 369.90 296.69 C371.90 298.18 373.90 299.67 375.90 301.16 C377.90 302.65 379.90 304.15 381.90 305.64 C383.90 307.14 385.90 308.64 387.90 310.14 C389.90 311.64 391.90 313.15 393.90 314.66 C395.90 316.18 397.90 317.69 399.90 319.22 C401.90 320.75 403.90 322.28 405.90 323.82 C407.90 325.36 409.90 326.91 411.90 328.47 C413.90 330.03 415.90 331.60 417.90 333.18 C419.90 334.76 421.90 336.35 423.90 337.96 C425.90 339.56 427.90 341.18 429.90 342.81 C431.90 344.44 433.90 346.09 435.90 347.75 C437.90 349.41 439.90 351.08 441.90 352.78 C443.90 354.47 445.90 356.18 447.90 357.90 C449.90 359.63 451.90 361.38 453.90 363.14 C455.90 364.91 457.90 366.69 459.90 368.49 C461.90 370.30 463.90 372.12 465.90 373.96 C467.90 375.80 469.90 377.66 471.90 379.53 C473.90 381.40 475.90 383.30 477.90 385.21 C479.90 387.11 481.90 389.04 483.90 390.98 C485.90 392.92 487.90 394.88 489.90 396.85 C491.90 398.82 493.90 400.80 495.90 402.80 C497.90 404.80 499.90 406.82 501.90 408.85 C503.90 410.87 505.90 412.92 507.90 414.97 C509.90 417.02 511.90 419.09 513.90 421.17 C515.90 423.25 517.90 425.34 519.90 427.44 C521.90 429.54 523.90 431.65 525.90 433.77 C527.90 435.90 529.90 438.03 531.90 440.17 C533.90 442.31 535.90 444.47 537.90 446.63 C539.90 448.79 541.90 450.96 543.90 453.14 C545.90 455.32 547.90 457.51 549.90 459.71 C551.90 461.90 553.90 464.11 555.90 466.33 C557.90 468.54 559.90 470.77 561.90 473.01 C563.90 475.24 565.90 477.48 567.90 479.74 C569.90 481.99 571.90 484.25 573.90 486.52 C575.90 488.80 577.90 491.08 579.90 493.37 C581.90 495.65 583.90 497.95 585.90 500.26 C587.90 502.57 589.90 504.88 591.90 507.21 C593.90 509.53 595.90 511.87 597.90 514.21 C599.90 516.55 601.90 518.91 603.90 521.27 C605.90 523.63 607.90 526.00 609.90 528.37 C611.90 530.75 613.90 533.14 615.90 535.53 C617.90 537.93 619.90 540.34 621.90 542.75 C623.90 545.16 625.90 547.58 627.90 550.01 C629.90 552.44 631.90 554.88 633.90 557.33 C635.90 559.78 637.90 562.24 639.90 564.70 C641.90 567.16 643.90 569.64 645.90 572.12 C647.90 574.60 649.90 577.09 651.90 579.59 C653.90 582.09 655.90 584.60 657.90 587.11 C659.90 589.63 661.90 592.15 663.90 594.69 C665.90 597.22 667.90 599.76 669.90 602.31 C671.90 604.86 673.90 607.42 675.90 609.98 C677.90 612.55 679.90 615.12 681.90 617.71 C683.90 620.29 685.90 622.88 687.90 625.48 C689.90 628.08 691.90 630.69 693.90 633.30 C695.90 635.92 697.90 638.54 699.90 641.17 C701.90 643.80 703.90 646.44 705.90 649.09 C707.90 651.74 709.90 654.40 711.90 657.06 C713.90 659.72 715.90 662.40 717.90 665.08 C719.90 667.76 721.90 670.45 723.90 673.14 C725.90 675.84 727.90 678.54 729.90 681.25 C731.90 683.97 733.90 686.69 735.90 689.41 C737.90 692.14 739.90 694.88 741.90 697.62 C743.90 700.36 745.90 703.12 747.90 705.87 C749.90 708.63 751.90 711.40 753.90 714.18 C755.90 716.95 757.90 719.73 759.90 722.52 C761.90 725.31 763.90 728.11 765.90 730.91 C767.90 733.72 769.90 736.53 771.90 739.35 C773.90 742.17 775.90 744.99 777.90 747.82 C779.90 750.65 781.90 753.49 783.90 756.32 C785.90 759.16 787.90 762.01 789.90 764.86 C791.90 767.71 793.90 770.56 795.90 773.41 C797.90 776.27 799.90 779.13 801.90 781.99 C803.90 784.85 805.90 787.71 807.90 790.58 C809.90 793.45 811.90 796.31 813.90 799.18 C815.90 802.05 817.90 804.92 819.90 807.79 C821.90 810.65 823.90 813.52 825.90 816.38 C827.90 819.24 829.90 822.09 831.90 824.93 C833.90 827.77 835.90 830.59 837.90 833.40 C839.90 836.21 841.90 839.00 843.90 841.77 C845.90 844.53 847.90 847.28 849.90 849.99 C851.90 852.70 853.90 855.39 855.90 858.05 C857.90 860.70 859.90 863.32 861.90 865.90 C863.90 868.48 865.90 871.02 867.90 873.52 C869.90 876.01 871.90 878.47 873.90 880.87 C875.90 883.28 877.90 885.65 879.90 887.97 C881.90 890.29 883.90 892.57 885.90 894.81 C887.90 897.05 889.90 899.24 891.90 901.40 C893.90 903.55 895.90 905.67 897.90 907.74 C899.90 909.82 901.90 911.86 903.90 913.86 C905.90 915.85 907.90 917.81 909.90 919.74 C911.90 921.66 913.90 923.54 915.90 925.39 C917.90 927.24 919.90 929.06 921.90 930.84 C923.90 932.62 925.90 934.36 927.90 936.07 C929.90 937.78 931.90 939.46 933.90 941.10 C935.90 942.74 937.90 944.35 939.90 945.93 C941.90 947.51 943.90 949.06 945.90 950.58 C947.90 952.10 949.90 953.58 951.90 955.04 C953.90 956.50 955.90 957.92 957.90 959.33 C959.90 960.73 961.90 962.10 963.90 963.44 C965.90 964.79 967.90 966.10 969.90 967.40 C971.90 968.69 973.90 969.95 975.90 971.19 C977.90 972.43 979.90 973.65 981.90 974.84 C983.90 976.03 985.90 977.20 987.90 978.35 C989.90 979.49 991.90 980.62 993.90 981.71 C995.90 982.81 997.90 983.89 999.90 984.95 C1001.90 986.00 1003.90 987.03 1005.90 988.04 C1007.90 989.05 1009.90 990.04 1011.90 991.01 C1013.90 991.98 1015.90 992.92 1017.90 993.85 C1019.90 994.77 1021.90 995.68 1023.90 996.56 C1025.90 997.44 1027.90 998.31 1029.90 999.15 C1031.90 1000.00 1033.90 1000.82 1035.90 1001.62 C1037.90 1002.43 1039.90 1003.21 1041.90 1003.98 C1043.90 1004.75 1045.90 1005.49 1047.90 1006.22 C1049.90 1006.95 1051.90 1007.66 1053.90 1008.35 C1055.90 1009.04 1057.90 1009.72 1059.90 1010.37 C1061.90 1011.03 1063.90 1011.67 1065.90 1012.29 C1067.90 1012.91 1069.90 1013.52 1071.90 1014.11 C1073.90 1014.69 1075.90 1015.26 1077.90 1015.82 C1079.90 1016.38 1081.90 1016.91 1083.90 1017.44 C1085.90 1017.96 1087.90 1018.47 1089.90 1018.96 C1091.90 1019.45 1093.90 1019.93 1095.90 1020.39 C1097.90 1020.86 1099.90 1021.30 1101.90 1021.74 C1103.90 1022.17 1105.90 1022.59 1107.90 1023.00 C1109.90 1023.40 1111.90 1023.79 1113.90 1024.17 C1115.90 1024.55 1117.90 1024.91 1119.90 1025.27 C1121.90 1025.62 1123.90 1025.96 1125.90 1026.28 C1127.90 1026.61 1129.90 1026.93 1131.90 1027.23 C1133.90 1027.53 1135.90 1027.82 1137.90 1028.10 C1139.90 1028.38 1141.90 1028.65 1143.90 1028.90 C1145.90 1029.16 1147.90 1029.40 1149.90 1029.64 C1151.90 1029.87 1153.90 1030.10 1155.90 1030.31 C1157.90 1030.53 1159.90 1030.73 1161.90 1030.93 C1163.90 1031.12 1165.90 1031.31 1167.90 1031.48 C1169.90 1031.66 1171.90 1031.82 1173.90 1031.98 C1175.90 1032.14 1177.90 1032.29 1179.90 1032.43 C1181.90 1032.57 1183.90 1032.71 1185.90 1032.83 C1187.90 1032.96 1189.90 1033.07 1191.90 1033.18 C1193.90 1033.30 1195.90 1033.40 1197.90 1033.49 C1199.90 1033.59 1201.90 1033.68 1203.90 1033.76 C1205.90 1033.85 1207.90 1033.92 1209.90 1033.99 C1211.90 1034.07 1213.90 1034.13 1215.90 1034.19 C1217.90 1034.25 1219.90 1034.30 1221.90 1034.35 C1223.90 1034.40 1225.90 1034.45 1227.90 1034.49 C1229.90 1034.53 1231.90 1034.56 1233.90 1034.59 C1235.90 1034.63 1237.90 1034.65 1239.90 1034.68 C1241.90 1034.70 1243.90 1034.72 1245.90 1034.74 C1247.90 1034.76 1249.90 1034.77 1251.90 1034.78 C1253.90 1034.80 1255.90 1034.81 1257.90 1034.81 C1259.90 1034.82 1261.90 1034.82 1263.90 1034.83 C1265.90 1034.83 1267.90 1034.83 1269.90 1034.83 C1271.90 1034.83 1273.90 1034.83 1275.90 1034.83 C1277.90 1034.83 1279.90 1034.83 1281.90 1034.83 C1283.90 1034.82 1285.90 1034.82 1287.90 1034.82 C1289.90 1034.82 1291.90 1034.82 1293.90 1034.81 C1295.90 1034.81 1297.90 1034.81 1299.90 1034.81 C1301.90 1034.81 1303.90 1034.81 1305.90 1034.82 C1307.90 1034.82 1309.90 1034.83 1311.90 1034.83 C1313.90 1034.84 1315.90 1034.85 1317.90 1034.86 C1319.90 1034.87 1321.90 1034.89 1323.90 1034.90 C1325.90 1034.92 1327.90 1034.94 1329.90 1034.97 C1331.90 1034.99 1333.90 1035.02 1335.90 1035.05 C1337.90 1035.08 1339.90 1035.12 1341.90 1035.15 C1343.90 1035.19 1345.90 1035.24 1347.90 1035.29 C1349.90 1035.34 1351.90 1035.39 1353.90 1035.45 C1355.90 1035.51 1358.88 1035.61 1359.90 1035.64 C1360.92 1035.68 1359.98 1035.65 1360.00 1035.65 L1364.00 1033.50 L1367.00 1032.00 L1369.00 1031.60 L1421.00 1031.60" fill="none" stroke="#0000ff" stroke-width="2.9" stroke-dasharray="16 6.5 3.5 6.5" stroke-linejoin="round"/>
<rect x="1369" y="1035.8" width="52" height="4.5" fill="#555"/>
<path d="M201.60 142.50 L211.50 142.50 L212.50 146.00 L212.80 154.00 L214.20 157.00 L214.50 167.50 L216.60 170.50 L217.10 176.30 L218.20 177.80 L222.00 178.70 L227.00 179.80 L229.50 182.54 C230.50 183.71 233.50 187.25 235.50 189.54 C237.50 191.83 239.50 194.08 241.50 196.29 C243.50 198.51 245.50 200.68 247.50 202.83 C249.50 204.97 251.50 207.08 253.50 209.16 C255.50 211.24 257.50 213.29 259.50 215.32 C261.50 217.35 263.50 219.35 265.50 221.33 C267.50 223.32 269.50 225.28 271.50 227.23 C273.50 229.17 275.50 231.10 277.50 233.02 C279.50 234.94 281.50 236.84 283.50 238.74 C285.50 240.64 287.50 242.53 289.50 244.41 C291.50 246.30 293.50 248.18 295.50 250.06 C297.50 251.95 299.50 253.83 301.50 255.72 C303.50 257.60 305.50 259.49 307.50 261.40 C309.50 263.30 311.50 265.20 313.50 267.13 C315.50 269.05 317.50 270.99 319.50 272.93 C321.50 274.87 323.50 276.83 325.50 278.78 C327.50 280.73 329.50 282.68 331.50 284.62 C333.50 286.57 335.50 288.51 337.50 290.43 C339.50 292.35 341.50 294.26 343.50 296.14 C345.50 298.02 347.50 299.89 349.50 301.72 C351.50 303.55 353.50 305.35 355.50 307.13 C357.50 308.91 359.50 310.66 361.50 312.39 C363.50 314.13 365.50 315.84 367.50 317.54 C369.50 319.24 371.50 320.92 373.50 322.59 C375.50 324.27 377.50 325.93 379.50 327.59 C381.50 329.26 383.50 330.91 385.50 332.58 C387.50 334.24 389.50 335.90 391.50 337.57 C393.50 339.24 395.50 340.91 397.50 342.60 C399.50 344.29 401.50 345.99 403.50 347.71 C405.50 349.43 407.50 351.17 409.50 352.93 C411.50 354.69 413.50 356.48 415.50 358.28 C417.50 360.09 419.50 361.92 421.50 363.78 C423.50 365.63 425.50 367.50 427.50 369.40 C429.50 371.30 431.50 373.21 433.50 375.15 C435.50 377.09 437.50 379.05 439.50 381.03 C441.50 383.01 443.50 385.01 445.50 387.03 C447.50 389.05 449.50 391.09 451.50 393.14 C453.50 395.20 455.50 397.27 457.50 399.37 C459.50 401.46 461.50 403.57 463.50 405.70 C465.50 407.83 467.50 409.97 469.50 412.13 C471.50 414.29 473.50 416.47 475.50 418.67 C477.50 420.86 479.50 423.07 481.50 425.29 C483.50 427.52 485.50 429.76 487.50 432.01 C489.50 434.26 491.50 436.53 493.50 438.81 C495.50 441.09 497.50 443.38 499.50 445.69 C501.50 447.99 503.50 450.31 505.50 452.63 C507.50 454.96 509.50 457.30 511.50 459.65 C513.50 462.00 515.50 464.36 517.50 466.72 C519.50 469.09 521.50 471.47 523.50 473.85 C525.50 476.23 527.50 478.63 529.50 481.02 C531.50 483.42 533.50 485.83 535.50 488.24 C537.50 490.65 539.50 493.07 541.50 495.49 C543.50 497.92 545.50 500.34 547.50 502.79 C549.50 505.23 551.50 507.68 553.50 510.15 C555.50 512.62 557.50 515.10 559.50 517.60 C561.50 520.11 563.50 522.63 565.50 525.18 C567.50 527.73 569.50 530.31 571.50 532.91 C573.50 535.51 575.50 538.15 577.50 540.80 C579.50 543.46 581.50 546.14 583.50 548.84 C585.50 551.53 587.50 554.26 589.50 556.99 C591.50 559.73 593.50 562.48 595.50 565.25 C597.50 568.02 599.50 570.80 601.50 573.59 C603.50 576.38 605.50 579.18 607.50 582.00 C609.50 584.81 611.50 587.63 613.50 590.47 C615.50 593.31 617.50 596.15 619.50 599.01 C621.50 601.87 623.50 604.74 625.50 607.62 C627.50 610.50 629.50 613.40 631.50 616.30 C633.50 619.21 635.50 622.13 637.50 625.06 C639.50 627.99 641.50 630.93 643.50 633.89 C645.50 636.84 647.50 639.81 649.50 642.79 C651.50 645.77 653.50 648.77 655.50 651.77 C657.50 654.78 659.50 657.80 661.50 660.83 C663.50 663.87 665.50 666.91 667.50 669.97 C669.50 673.03 671.50 676.09 673.50 679.17 C675.50 682.25 677.50 685.34 679.50 688.43 C681.50 691.53 683.50 694.63 685.50 697.74 C687.50 700.85 689.50 703.97 691.50 707.09 C693.50 710.21 695.50 713.33 697.50 716.46 C699.50 719.59 701.50 722.72 703.50 725.86 C705.50 728.99 707.50 732.13 709.50 735.26 C711.50 738.40 713.50 741.54 715.50 744.67 C717.50 747.81 719.50 750.94 721.50 754.07 C723.50 757.20 725.50 760.33 727.50 763.45 C729.50 766.57 731.50 769.68 733.50 772.79 C735.50 775.90 737.50 779.00 739.50 782.10 C741.50 785.19 743.50 788.27 745.50 791.35 C747.50 794.42 749.50 797.48 751.50 800.53 C753.50 803.58 755.50 806.62 757.50 809.64 C759.50 812.67 761.50 815.68 763.50 818.67 C765.50 821.66 767.50 824.64 769.50 827.60 C771.50 830.56 773.50 833.50 775.50 836.42 C777.50 839.34 779.50 842.24 781.50 845.12 C783.50 847.99 785.50 850.84 787.50 853.67 C789.50 856.49 791.50 859.29 793.50 862.05 C795.50 864.81 797.50 867.55 799.50 870.24 C801.50 872.93 803.50 875.59 805.50 878.21 C807.50 880.83 809.50 883.41 811.50 885.95 C813.50 888.48 815.50 890.98 817.50 893.43 C819.50 895.88 821.50 898.28 823.50 900.65 C825.50 903.01 827.50 905.32 829.50 907.60 C831.50 909.88 833.50 912.11 835.50 914.30 C837.50 916.49 839.50 918.64 841.50 920.75 C843.50 922.86 845.50 924.92 847.50 926.95 C849.50 928.97 851.50 930.95 853.50 932.90 C855.50 934.84 857.50 936.74 859.50 938.60 C861.50 940.46 863.50 942.29 865.50 944.07 C867.50 945.85 869.50 947.59 871.50 949.29 C873.50 950.99 875.50 952.65 877.50 954.27 C879.50 955.90 881.50 957.48 883.50 959.02 C885.50 960.57 887.50 962.07 889.50 963.54 C891.50 965.00 893.50 966.43 895.50 967.82 C897.50 969.21 899.50 970.56 901.50 971.88 C903.50 973.20 905.50 974.48 907.50 975.73 C909.50 976.99 911.50 978.20 913.50 979.39 C915.50 980.58 917.50 981.73 919.50 982.85 C921.50 983.98 923.50 985.08 925.50 986.14 C927.50 987.21 929.50 988.25 931.50 989.27 C933.50 990.29 935.50 991.27 937.50 992.24 C939.50 993.21 941.50 994.15 943.50 995.07 C945.50 995.99 947.50 996.89 949.50 997.76 C951.50 998.64 953.50 999.50 955.50 1000.34 C957.50 1001.17 959.50 1001.99 961.50 1002.79 C963.50 1003.59 965.50 1004.37 967.50 1005.13 C969.50 1005.89 971.50 1006.63 973.50 1007.36 C975.50 1008.08 977.50 1008.79 979.50 1009.48 C981.50 1010.17 983.50 1010.84 985.50 1011.49 C987.50 1012.14 989.50 1012.78 991.50 1013.40 C993.50 1014.02 995.50 1014.63 997.50 1015.21 C999.50 1015.80 1001.50 1016.38 1003.50 1016.93 C1005.50 1017.49 1007.50 1018.03 1009.50 1018.56 C1011.50 1019.09 1013.50 1019.60 1015.50 1020.09 C1017.50 1020.59 1019.50 1021.08 1021.50 1021.55 C1023.50 1022.02 1025.50 1022.47 1027.50 1022.92 C1029.50 1023.36 1031.50 1023.79 1033.50 1024.21 C1035.50 1024.62 1037.50 1025.03 1039.50 1025.42 C1041.50 1025.81 1043.50 1026.20 1045.50 1026.56 C1047.50 1026.93 1049.50 1027.29 1051.50 1027.64 C1053.50 1027.99 1055.50 1028.32 1057.50 1028.65 C1059.50 1028.97 1061.50 1029.29 1063.50 1029.59 C1065.50 1029.90 1067.50 1030.20 1069.50 1030.48 C1071.50 1030.77 1073.50 1031.05 1075.50 1031.31 C1077.50 1031.58 1079.50 1031.84 1081.50 1032.09 C1083.50 1032.34 1085.50 1032.59 1087.50 1032.82 C1089.50 1033.05 1091.50 1033.28 1093.50 1033.50 C1095.50 1033.71 1097.50 1033.92 1099.50 1034.12 C1101.50 1034.32 1103.50 1034.52 1105.50 1034.70 C1107.50 1034.89 1109.50 1035.07 1111.50 1035.24 C1113.50 1035.41 1115.50 1035.57 1117.50 1035.73 C1119.50 1035.89 1121.50 1036.04 1123.50 1036.18 C1125.50 1036.32 1127.50 1036.46 1129.50 1036.59 C1131.50 1036.72 1133.50 1036.84 1135.50 1036.96 C1137.50 1037.07 1139.50 1037.19 1141.50 1037.29 C1143.50 1037.40 1145.50 1037.49 1147.50 1037.59 C1149.50 1037.68 1151.50 1037.77 1153.50 1037.85 C1155.50 1037.94 1157.50 1038.01 1159.50 1038.08 C1161.50 1038.16 1163.50 1038.22 1165.50 1038.29 C1167.50 1038.35 1169.50 1038.41 1171.50 1038.46 C1173.50 1038.51 1175.50 1038.56 1177.50 1038.61 C1179.50 1038.65 1181.50 1038.69 1183.50 1038.73 C1185.50 1038.76 1187.50 1038.79 1189.50 1038.82 C1191.50 1038.85 1193.50 1038.88 1195.50 1038.90 C1197.50 1038.92 1199.50 1038.94 1201.50 1038.95 C1203.50 1038.97 1205.50 1038.98 1207.50 1038.99 C1209.50 1039.00 1211.50 1039.00 1213.50 1039.01 C1215.50 1039.01 1217.50 1039.01 1219.50 1039.01 C1221.50 1039.01 1223.50 1039.01 1225.50 1039.00 C1227.50 1039.00 1229.50 1038.99 1231.50 1038.98 C1233.50 1038.97 1235.50 1038.96 1237.50 1038.95 C1239.50 1038.93 1241.50 1038.92 1243.50 1038.90 C1245.50 1038.89 1247.50 1038.87 1249.50 1038.86 C1251.50 1038.84 1253.50 1038.82 1255.50 1038.80 C1257.50 1038.78 1259.50 1038.77 1261.50 1038.75 C1263.50 1038.73 1265.50 1038.71 1267.50 1038.69 C1269.50 1038.67 1271.50 1038.65 1273.50 1038.63 C1275.50 1038.61 1277.50 1038.59 1279.50 1038.57 C1281.50 1038.55 1283.50 1038.53 1285.50 1038.51 C1287.50 1038.50 1289.50 1038.48 1291.50 1038.46 C1293.50 1038.45 1295.50 1038.43 1297.50 1038.42 C1299.50 1038.41 1301.50 1038.39 1303.50 1038.38 C1305.50 1038.37 1307.50 1038.36 1309.50 1038.36 C1311.50 1038.35 1313.50 1038.34 1315.50 1038.34 C1317.50 1038.34 1319.50 1038.34 1321.50 1038.34 C1323.50 1038.34 1325.50 1038.35 1327.50 1038.35 C1329.50 1038.36 1331.50 1038.37 1333.50 1038.38 C1335.50 1038.39 1337.50 1038.41 1339.50 1038.43 C1341.50 1038.45 1343.50 1038.47 1345.50 1038.50 C1347.50 1038.52 1349.50 1038.55 1351.50 1038.58 C1353.50 1038.62 1356.08 1038.67 1357.50 1038.69 C1358.92 1038.72 1359.58 1038.74 1360.00 1038.75 L1364.00 1037.50 L1367.00 1035.50 L1369.00 1034.80 L1421.00 1034.80" fill="none" stroke="#000" stroke-width="2.9" stroke-linejoin="round"/>
<text transform="translate(808.00,1181.80) scale(0.900,1)" font-family="Liberation Serif" font-style="italic" font-size="56.0" fill="#333" stroke="#fff" stroke-width="0.90" text-anchor="middle">t</text>
<line x1="818.5" y1="1184.5" x2="839" y2="1140.5" stroke="#555" stroke-width="1.7"/>
<text transform="translate(855.20,1181.80) scale(1.000,1)" font-family="Liberation Serif" font-size="56.0" fill="#333" stroke="#fff" stroke-width="0.90" text-anchor="middle">s</text>
<g transform="translate(59.2,0) rotate(-90)">
<text transform="translate(-595.20,0.00) scale(0.750,1)" font-family="Liberation Serif" font-style="italic" font-size="55.0" fill="#333" stroke="#fff" stroke-width="0.90" text-anchor="middle">M</text>
<text transform="translate(-578.00,14.40) scale(0.580,1)" font-family="Liberation Serif" font-size="36.0" fill="#333" stroke="#fff" stroke-width="0.90" text-anchor="middle">w</text><text transform="translate(-560.50,14.40) scale(1.050,1)" font-family="Liberation Serif" font-size="36.0" fill="#333" stroke="#fff" stroke-width="0.90" text-anchor="middle">a</text><text transform="translate(-543.00,14.40) scale(1.150,1)" font-family="Liberation Serif" font-size="36.0" fill="#333" stroke="#fff" stroke-width="0.90" text-anchor="middle">t</text><text transform="translate(-525.00,14.40) scale(1.080,1)" font-family="Liberation Serif" font-size="36.0" fill="#333" stroke="#fff" stroke-width="0.90" text-anchor="middle">e</text><text transform="translate(-506.00,14.40) scale(1.050,1)" font-family="Liberation Serif" font-size="36.0" fill="#333" stroke="#fff" stroke-width="0.90" text-anchor="middle">r</text>
<text transform="translate(-458.00,0.00) scale(0.800,1)" font-family="Liberation Serif" font-size="55.0" fill="#333" stroke="#fff" stroke-width="0.90" text-anchor="middle">k</text><text transform="translate(-431.00,0.00) scale(0.870,1)" font-family="Liberation Serif" font-size="55.0" fill="#333" stroke="#fff" stroke-width="0.90" text-anchor="middle">g</text>
</g>
<line x1="18" y1="472" x2="61.2" y2="495.2" stroke="#555" stroke-width="1.7"/>
</svg>
</body></html>
